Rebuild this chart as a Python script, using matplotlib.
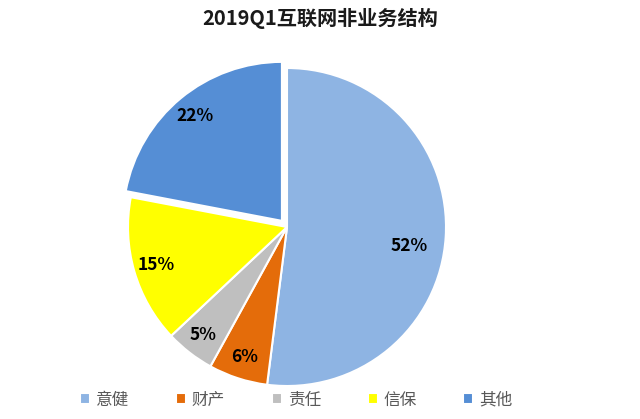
import matplotlib.pyplot as plt
import numpy as np

plt.rcParams['font.family'] = ['Noto Sans CJK SC', 'DejaVu Sans']

labels = ['意健', '财产', '责任', '信保', '其他']
shares = [52, 6, 5, 15, 22]
colors = ['#8EB4E3', '#E46C0A', '#BFBFBF', '#FFFF00', '#558ED5']
explode = [0, 0, 0, 0, 0.05]

fig = plt.figure(figsize=(6.4, 4.19), dpi=100)
lim = 1.1
w = 318 * lim / 640
h = 318 * lim / 419
ax = fig.add_axes([287 / 640 - w / 2, (419 - 227) / 419 - h / 2, w, h])

wedges, texts, autotexts = ax.pie(
    shares, colors=colors, explode=explode, startangle=90, counterclock=False,
    autopct='%d%%', pctdistance=0.86,
    wedgeprops=dict(edgecolor='white', linewidth=1.5),
    textprops=dict(fontsize=12.5, fontweight='bold', color='black'))

# the big slice label sits a bit lower and inward
ang = np.deg2rad(-9)
autotexts[0].set_position((0.78 * np.cos(ang), 0.78 * np.sin(ang)))

ax.set_xlim(-lim, lim)
ax.set_ylim(-lim, lim)
ax.set_aspect('equal')

fig.text(0.5, 0.955, '2019Q1互联网非业务结构', ha='center', va='center',
         fontsize=14.5, fontweight='bold', color='#1a1a1a')

leg = fig.legend(wedges, labels, loc='center', bbox_to_anchor=(0.463, 0.045), ncol=5,
                 frameon=False, fontsize=12, handlelength=0.6, handleheight=0.6,
                 handletextpad=0.35, columnspacing=2.8)
for t in leg.get_texts():
    t.set_color('#595959')

fig.savefig('out.png', dpi=100)
